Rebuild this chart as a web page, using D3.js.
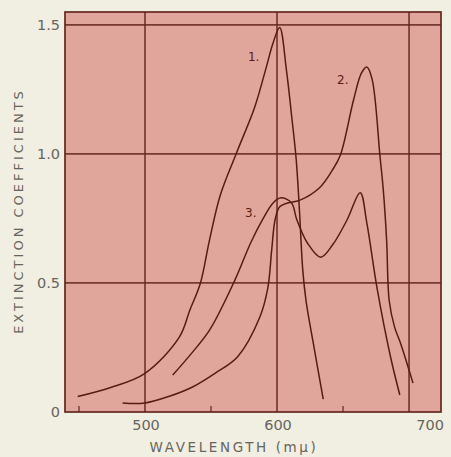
<!DOCTYPE html>
<html>
<head>
<meta charset="utf-8">
<script src="https://cdn.jsdelivr.net/npm/d3@7"></script>
<style>
  html, body { margin: 0; padding: 0; background: #f1efe2; }
  svg { display: block; }
  text { font-family: "DejaVu Sans", sans-serif; }
</style>
</head>
<body>
<div id="chart"></div>
<script>
// curves: [wavelength (mμ), extinction coefficient]
const curve1 = [[449,0.06],[474,0.095],[500,0.15],[526,0.29],[534,0.395],[542,0.5],[549,0.67],[557,0.84],
  [569,1.0],[583,1.18],[591,1.32],[597,1.43],[602,1.49],[607,1.33],[611,1.15],[614.5,0.98],[617,0.78],
  [619.5,0.55],[622,0.43],[627,0.28],[635,0.05]];
const curve2 = [[483,0.035],[500,0.035],[519,0.062],[536,0.097],[553,0.15],[570,0.213],[587,0.368],[593,0.48],
  [596,0.63],[598.5,0.744],[602,0.795],[608,0.81],[617,0.82],[632,0.868],[642,0.938],[648,0.996],[658,1.21],
  [664,1.314],[668,1.337],[672,1.29],[678,0.99],[680.5,0.86],[683,0.667],[685,0.43],[689,0.33],[694,0.26],
  [703,0.112]];
const curve3 = [[521,0.143],[536,0.232],[549,0.318],[568,0.51],[580,0.655],[589,0.745],[597,0.81],[603,0.83],
  [611,0.81],[615,0.745],[623,0.655],[633,0.6],[642,0.647],[653,0.744],[663,0.85],[668,0.733],[676,0.473],
  [686,0.213],[693,0.066]];

const curveNames = ["1.", "2.", "3."];
const xTicks = [500, 600, 700];
const xMinorTicks = [450, 550, 650];
const yTicks = [0, 0.5, 1.0, 1.5];
const yTickLabels = ["0", "0.5", "1.0", "1.5"];

const width = 451, height = 457;
const pLeft = 65, pRight = 441, pTop = 12, pBottom = 412;

const x = d3.scaleLinear().domain([439.4, 724.2]).range([pLeft, pRight]);
const y = d3.scaleLinear().domain([0, 1.55]).range([pBottom, pTop]);

const ink = "#652620";
const svg = d3.select("#chart").append("svg")
    .attr("width", width)
    .attr("height", height);

svg.append("rect")
    .attr("x", pLeft).attr("y", pTop)
    .attr("width", pRight - pLeft).attr("height", pBottom - pTop)
    .attr("fill", "#e0a69b");

// grid
svg.selectAll(".hgrid")
    .data(yTicks.filter(d => d > 0))
    .enter().append("line")
    .attr("x1", pLeft).attr("x2", pRight)
    .attr("y1", d => y(d)).attr("y2", d => y(d))
    .attr("stroke", ink).attr("stroke-width", 1.7).attr("opacity", 0.85);

svg.selectAll(".vgrid")
    .data(xTicks)
    .enter().append("line")
    .attr("x1", d => x(d)).attr("x2", d => x(d))
    .attr("y1", pTop).attr("y2", pBottom)
    .attr("stroke", ink).attr("stroke-width", 1.7).attr("opacity", 0.85);

svg.selectAll(".minor")
    .data(xMinorTicks)
    .enter().append("line")
    .attr("x1", d => x(d)).attr("x2", d => x(d))
    .attr("y1", pBottom - 6).attr("y2", pBottom)
    .attr("stroke", ink).attr("stroke-width", 1.2);

svg.append("rect")
    .attr("x", pLeft).attr("y", pTop)
    .attr("width", pRight - pLeft).attr("height", pBottom - pTop)
    .attr("fill", "none").attr("stroke", ink).attr("stroke-width", 1.7);

// curves
const line = d3.line()
    .x(d => x(d[0]))
    .y(d => y(d[1]))
    .curve(d3.curveCatmullRom.alpha(0.5));

svg.selectAll(".curve")
    .data([curve1, curve2, curve3])
    .enter().append("path")
    .attr("d", line)
    .attr("fill", "none")
    .attr("stroke", "#571b15")
    .attr("stroke-width", 1.5);

// curve labels
const labelAt = [[578, 1.36], [645.5, 1.27], [575.8, 0.755]];
svg.selectAll(".clabel")
    .data(curveNames)
    .enter().append("text")
    .attr("x", (d, i) => x(labelAt[i][0]))
    .attr("y", (d, i) => y(labelAt[i][1]))
    .attr("font-size", 12)
    .attr("fill", "#5a1d16")
    .text(d => d);

// axis labels
const grey = "#66655c";
svg.selectAll(".ylab")
    .data(yTicks)
    .enter().append("text")
    .attr("x", 60)
    .attr("y", d => y(d))
    .attr("dy", "0.36em")
    .attr("text-anchor", "end")
    .attr("font-size", 14.5)
    .attr("fill", grey)
    .text((d, i) => yTickLabels[i]);

svg.selectAll(".xlab")
    .data(xTicks)
    .enter().append("text")
    .attr("x", d => x(d))
    .attr("dx", d => d === 700 ? 21 : 1)
    .attr("y", 430)
    .attr("text-anchor", "middle")
    .attr("font-size", 14.5)
    .attr("fill", grey)
    .text(d => d);

svg.append("text")
    .attr("x", 234).attr("y", 452)
    .attr("text-anchor", "middle")
    .attr("font-size", 13.5)
    .attr("letter-spacing", 2.6)
    .attr("fill", grey)
    .text("WAVELENGTH (mμ)");

svg.append("text")
    .attr("transform", "translate(23,211) rotate(-90)")
    .attr("text-anchor", "middle")
    .attr("font-size", 13)
    .attr("letter-spacing", 3)
    .attr("fill", grey)
    .text("EXTINCTION COEFFICIENTS");
</script>
</body>
</html>
